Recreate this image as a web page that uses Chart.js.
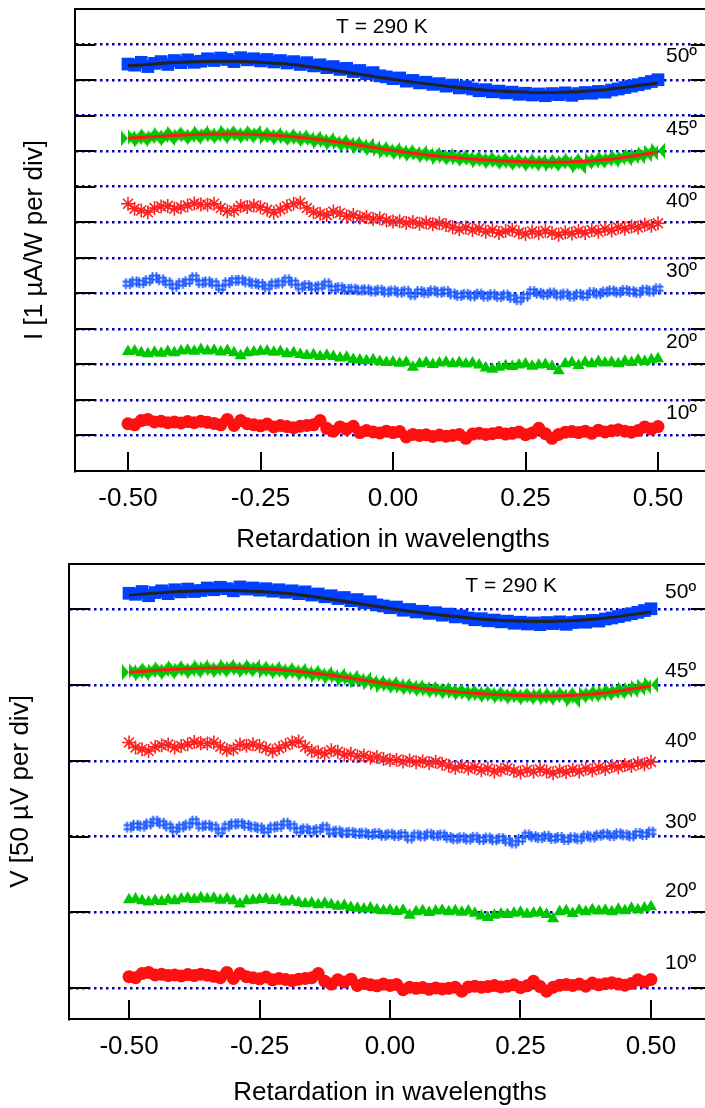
<!DOCTYPE html>
<html>
<head>
<meta charset="utf-8">
<script src="https://cdn.jsdelivr.net/npm/chart.js@4.4.1/dist/chart.umd.min.js"></script>
<style>
  html, body { margin: 0; padding: 0; background: #fff; overflow: hidden; }
  #wrap { position: relative; width: 705px; height: 1108px; overflow: hidden; }
  canvas { position: absolute; left: 0; }
</style>
</head>
<body>
<div id="wrap">
  <canvas id="topChart" width="720" height="555" style="top:0"></canvas>
  <canvas id="bottomChart" width="720" height="553" style="top:555px"></canvas>
</div>
<script>
// retardation (in wavelengths) of every measured point
const retardation = [
  -0.5, -0.4875, -0.475, -0.4625, -0.45, -0.4375, -0.425, -0.4125, -0.4,
  -0.3875, -0.375, -0.3625, -0.35, -0.3375, -0.325, -0.3125, -0.3,
  -0.2875, -0.275, -0.2625, -0.25, -0.2375, -0.225, -0.2125, -0.2,
  -0.1875, -0.175, -0.1625, -0.15, -0.1375, -0.125, -0.1125, -0.1,
  -0.0875, -0.075, -0.0625, -0.05, -0.0375, -0.025, -0.0125, 0,
  0.0125, 0.025, 0.0375, 0.05, 0.0625, 0.075, 0.0875, 0.1,
  0.1125, 0.125, 0.1375, 0.15, 0.1625, 0.175, 0.1875, 0.2,
  0.2125, 0.225, 0.2375, 0.25, 0.2625, 0.275, 0.2875, 0.3,
  0.3125, 0.325, 0.3375, 0.35, 0.3625, 0.375, 0.3875, 0.4,
  0.4125, 0.425, 0.4375, 0.45, 0.4625, 0.475, 0.4875, 0.5
];
const fitRetardation = [-0.5, -0.4, -0.3, -0.2, -0.1, 0, 0.1, 0.2, 0.3, 0.4, 0.5];
const xTickValues = [-0.5, -0.25, 0, 0.25, 0.5];
const angleLabels = ['10º', '20º', '30º', '40º', '45º', '50º'];

// signal, in divisions above each trace's own baseline
const sig10 = [
  0.33, 0.30, 0.42, 0.45, 0.38, 0.40, 0.36, 0.38, 0.35,
  0.39, 0.36, 0.40, 0.37, 0.34, 0.30, 0.45, 0.28,
  0.42, 0.33, 0.30, 0.27, 0.32, 0.24, 0.28, 0.25,
  0.22, 0.26, 0.28, 0.30, 0.42, 0.20, 0.12, 0.24,
  0.18, 0.26, 0.08, 0.14, 0.10, 0.07, 0.12, 0.08,
  0.11, -0.04, 0.03, 0.00, 0.02, -0.03, 0.01, -0.02,
  0.00, 0.03, -0.08, 0.04, 0.06, 0.03, 0.05, 0.08,
  0.04, 0.06, 0.10, 0.02, 0.07, 0.20, 0.05, -0.08,
  0.03, 0.09, 0.11, 0.08, 0.12, 0.06, 0.15, 0.10,
  0.13, 0.16, 0.12, 0.09, 0.14, 0.24, 0.18, 0.25
];
const sig20 = [
  0.36, 0.38, 0.33, 0.30, 0.34, 0.31, 0.36, 0.33, 0.38,
  0.40, 0.37, 0.42, 0.38, 0.40, 0.35, 0.39, 0.33,
  0.24, 0.33, 0.35, 0.37, 0.38, 0.34, 0.36, 0.30,
  0.33, 0.28, 0.25, 0.27, 0.22, 0.26, 0.22, 0.18,
  0.20, 0.14, 0.12, 0.10, 0.13, 0.08, 0.05, 0.07,
  0.03, 0.06, -0.08, 0.02, 0.05, 0.00, 0.04, 0.06,
  0.02, 0.05, 0.01, 0.04, -0.02, -0.10, -0.14, -0.08,
  -0.04, -0.06, -0.02, 0.01, -0.05, -0.02, 0.00, -0.06,
  -0.18, 0.02, 0.05, -0.03, 0.06, 0.02, 0.08, 0.04,
  0.06, 0.02, 0.09, 0.05, 0.12, 0.08, 0.13, 0.16
];
const sig30 = [
  0.27, 0.32, 0.30, 0.36, 0.44, 0.38, 0.30, 0.20, 0.28,
  0.33, 0.44, 0.30, 0.32, 0.28, 0.16, 0.30, 0.36,
  0.37, 0.32, 0.28, 0.25, 0.18, 0.27, 0.29, 0.38,
  0.30, 0.18, 0.22, 0.17, 0.20, 0.27, 0.14, 0.16,
  0.11, 0.12, 0.09, 0.10, 0.06, 0.09, 0.04, 0.07,
  0.03, 0.06, -0.04, 0.05, 0.02, 0.07, 0.03, 0.05,
  -0.02, -0.06, -0.03, -0.07, -0.02, -0.08, -0.04, -0.09,
  -0.05, -0.12, -0.18, -0.08, 0.05, 0.00, -0.03, 0.01,
  -0.05, -0.02, -0.08, -0.03, -0.06, 0.02, -0.01, 0.04,
  0.07, 0.03, 0.08, 0.05, 0.02, 0.09, 0.06, 0.13
];
const sig40 = [
  0.52, 0.38, 0.33, 0.28, 0.40, 0.44, 0.46, 0.38, 0.42,
  0.47, 0.53, 0.50, 0.49, 0.52, 0.40, 0.31, 0.33,
  0.46, 0.43, 0.47, 0.42, 0.35, 0.27, 0.36, 0.45,
  0.52, 0.55, 0.40, 0.28, 0.24, 0.20, 0.30, 0.26,
  0.17, 0.20, 0.13, 0.15, 0.09, 0.11, 0.05, 0.02,
  0.03, -0.02, 0.01, -0.04, -0.01, -0.06, -0.03, -0.08,
  -0.14, -0.20, -0.15, -0.22, -0.18, -0.27, -0.22, -0.30,
  -0.25, -0.21, -0.29, -0.33, -0.26, -0.31, -0.24, -0.30,
  -0.35, -0.28, -0.32, -0.25, -0.30, -0.22, -0.27, -0.19,
  -0.23, -0.15, -0.18, -0.12, -0.15, -0.07, -0.10, -0.03
];
const sig45 = [
  0.36, 0.40, 0.33, 0.42, 0.38, 0.45, 0.37, 0.48, 0.41,
  0.46, 0.40, 0.50, 0.44, 0.47, 0.42, 0.52, 0.45,
  0.48, 0.43, 0.51, 0.46, 0.41, 0.45, 0.39, 0.42,
  0.36, 0.40, 0.33, 0.35, 0.28, 0.31, 0.24, 0.26,
  0.18, 0.21, 0.13, 0.15, 0.08, 0.06, 0.01, 0.03,
  -0.04, -0.02, -0.08, -0.06, -0.12, -0.10, -0.16, -0.13,
  -0.19, -0.17, -0.22, -0.20, -0.26, -0.23, -0.28, -0.25,
  -0.31, -0.27, -0.33, -0.29, -0.35, -0.30, -0.32, -0.36,
  -0.29, -0.33, -0.27, -0.42, -0.30, -0.26, -0.28, -0.22,
  -0.24, -0.18, -0.20, -0.13, -0.15, -0.08, -0.05, 0.01
];
const sig50 = [
  0.45, 0.42, 0.50, 0.38, 0.47, 0.52, 0.44, 0.55, 0.49,
  0.57, 0.50, 0.53, 0.60, 0.55, 0.62, 0.58, 0.52,
  0.63, 0.57, 0.60, 0.54, 0.58, 0.51, 0.55, 0.48,
  0.52, 0.44, 0.49, 0.40, 0.43, 0.35, 0.38, 0.30,
  0.33, 0.24, 0.27, 0.18, 0.21, 0.12, 0.09, 0.04,
  0.06, -0.03, -0.01, -0.08, -0.06, -0.12, -0.10, -0.17,
  -0.14, -0.22, -0.19, -0.25, -0.30, -0.27, -0.33, -0.31,
  -0.36, -0.34, -0.40, -0.37, -0.42, -0.39, -0.44, -0.38,
  -0.41, -0.36, -0.43, -0.38, -0.35, -0.37, -0.32, -0.34,
  -0.28, -0.25, -0.21, -0.17, -0.13, -0.09, -0.04, 0.01
];
// fitted curves for 45º and 50º
const fit45 = [0.36, 0.45, 0.48, 0.42, 0.25, 0.02, -0.16, -0.27, -0.31, -0.24, -0.03];
const fit50 = [0.40, 0.50, 0.53, 0.45, 0.25, 0.02, -0.17, -0.31, -0.35, -0.27, -0.08];

// baselines of the six traces (10º ... 50º) in each panel
const baseTop = [1, 3, 5, 7, 9, 11];
const baseBottom = [0.87, 3.02, 5.17, 7.32, 9.47, 11.62];

const FONT = '"Liberation Sans", Arial, Helvetica, sans-serif';
Chart.defaults.font.family = FONT;
Chart.defaults.color = '#000';

function bowtie(color) {
  const c = document.createElement('canvas');
  c.width = 14; c.height = 16;
  const g = c.getContext('2d');
  g.fillStyle = color;
  g.beginPath();
  g.moveTo(0, 0); g.lineTo(7, 8); g.lineTo(0, 16); g.closePath();
  g.moveTo(14, 0); g.lineTo(7, 8); g.lineTo(14, 16); g.closePath();
  g.fill();
  return c;
}

function hash(color) {
  const c = document.createElement('canvas');
  c.width = 13; c.height = 13;
  const g = c.getContext('2d');
  g.strokeStyle = color;
  g.lineWidth = 1.8;
  g.beginPath();
  g.moveTo(4.5, 1); g.lineTo(4.5, 12); g.moveTo(8.5, 1); g.lineTo(8.5, 12);
  g.moveTo(1, 4.5); g.lineTo(12, 4.5); g.moveTo(1, 8.5); g.lineTo(12, 8.5);
  g.stroke();
  return c;
}

const bowtieGreen = bowtie('#00c800');
const hashBlue = hash('#1f5cff');

function points(xs, offsets, base) {
  return xs.map((x, i) => ({ x, y: base + offsets[i] }));
}

// axis ticks drawn inward, top frame line, trace labels and temperature
const framePlugin = {
  id: 'frame',
  afterDraw(chart, args, opts) {
    const { ctx, chartArea: a, scales: { x, y } } = chart;
    ctx.save();
    ctx.strokeStyle = '#000';
    ctx.lineWidth = 2;
    ctx.beginPath();
    ctx.moveTo(a.left - 1, a.top);
    ctx.lineTo(a.right, a.top);
    y.ticks.forEach(t => {
      const py = Math.round(y.getPixelForValue(t.value));
      ctx.moveTo(a.left, py); ctx.lineTo(a.left + 20, py);
      ctx.moveTo(a.right - 20, py); ctx.lineTo(a.right, py);
    });
    x.ticks.forEach(t => {
      const px = Math.round(x.getPixelForValue(t.value));
      ctx.moveTo(px, a.bottom); ctx.lineTo(px, a.bottom - 19);
    });
    ctx.stroke();

    ctx.fillStyle = '#000';
    ctx.font = '21px ' + FONT;
    ctx.textBaseline = 'middle';
    ctx.textAlign = 'left';
    const lx = x.getPixelForValue(opts.tagX);
    opts.bases.forEach((b, i) => {
      ctx.fillText(angleLabels[i], lx, y.getPixelForValue(b) - opts.tagLift[i]);
    });
    ctx.textAlign = 'center';
    ctx.fillText('T = 290 K', x.getPixelForValue(opts.noteX), y.getPixelForValue(opts.noteY));
    ctx.restore();
  }
};

function panel(id, p) {
  const b = p.bases;
  const datasets = [
    { data: points(fitRetardation, fit50, b[5]), showLine: true, borderColor: '#222222', borderWidth: 3, pointRadius: 0, tension: 0.4, order: 0 },
    { data: points(fitRetardation, fit45, b[4]), showLine: true, borderColor: '#ff1a1a', borderWidth: 3, pointRadius: 0, tension: 0.4, order: 0 },
    { data: points(retardation, sig50, b[5]), pointStyle: 'rect', pointRadius: 9, backgroundColor: '#0040ff', borderColor: '#0040ff', pointBorderWidth: 0, order: 1 },
    { data: points(retardation, sig45, b[4]), pointStyle: bowtieGreen, order: 1 },
    { data: points(retardation, sig40, b[3]), pointStyle: 'star', pointRadius: 7, borderColor: '#ff2020', backgroundColor: '#ff2020', pointBorderWidth: 1.6, order: 1 },
    { data: points(retardation, sig30, b[2]), pointStyle: hashBlue, order: 1 },
    { data: points(retardation, sig20, b[1]), pointStyle: 'triangle', pointRadius: 7, backgroundColor: '#00c800', borderColor: '#00c800', pointBorderWidth: 0, order: 1 },
    { data: points(retardation, sig10, b[0]), pointStyle: 'circle', pointRadius: 6.5, backgroundColor: '#ff1010', borderColor: '#ff1010', pointBorderWidth: 0, order: 1 }
  ];
  return new Chart(document.getElementById(id), {
    type: 'scatter',
    data: { datasets },
    options: {
      responsive: false,
      animation: false,
      devicePixelRatio: 1,
      layout: { padding: { left: 0, right: 8, top: p.padTop, bottom: 0 } },
      plugins: {
        legend: { display: false },
        tooltip: { enabled: false },
        frame: { bases: b, tagX: p.tagX, tagLift: p.tagLift, noteX: p.noteX, noteY: p.noteY }
      },
      scales: {
        x: {
          type: 'linear',
          min: -p.xSpan,
          max: p.xSpan,
          afterBuildTicks: s => { s.ticks = xTickValues.map(v => ({ value: v })); },
          afterFit: s => { s.height = p.xHeight; },
          grid: { display: false, drawTicks: false },
          border: { display: true, color: '#000', width: 2 },
          ticks: { padding: 12, font: { size: 26 }, color: '#000', callback: v => v.toFixed(2) },
          title: { display: true, text: 'Retardation in wavelengths', font: { size: 26 }, color: '#000', padding: { top: 0, bottom: 0 } }
        },
        y: {
          type: 'linear',
          min: 0,
          max: p.yMax,
          afterBuildTicks: s => { s.ticks = p.grid.map(v => ({ value: v })); },
          afterFit: s => { s.width = p.yWidth; },
          grid: { color: '#0000c0', lineWidth: 2.5, drawTicks: false },
          border: { display: true, color: '#000', width: 2, dash: [2.5, 3.5] },
          ticks: { display: false },
          title: { display: true, text: p.yTitle, font: { size: 26 }, color: '#000', padding: { top: p.titlePad, bottom: 0 } }
        }
      }
    },
    plugins: [framePlugin]
  });
}

panel('topChart', {
  bases: baseTop,
  grid: [1, 2, 3, 4, 5, 6, 7, 8, 9, 10, 11, 12],
  yMax: 13,
  xSpan: 0.6,
  padTop: 8,
  xHeight: 84,
  yWidth: 75,
  titlePad: 19,
  yTitle: 'I [1 µA/W per div]',
  tagX: 0.515,
  tagLift: [22, 22, 22, 21, 22, 24],
  noteX: -0.021,
  noteY: 12.48
});

panel('bottomChart', {
  bases: baseBottom,
  grid: baseBottom,
  yMax: 12.9,
  xSpan: 0.615,
  padTop: 6,
  xHeight: 89,
  yWidth: 69,
  titlePad: 5,
  yTitle: 'V [50 µV per div]',
  tagX: 0.527,
  tagLift: [25.5, 21.7, 14.5, 20, 14, 17],
  noteX: 0.232,
  noteY: 12.26
});
</script>
</body>
</html>
